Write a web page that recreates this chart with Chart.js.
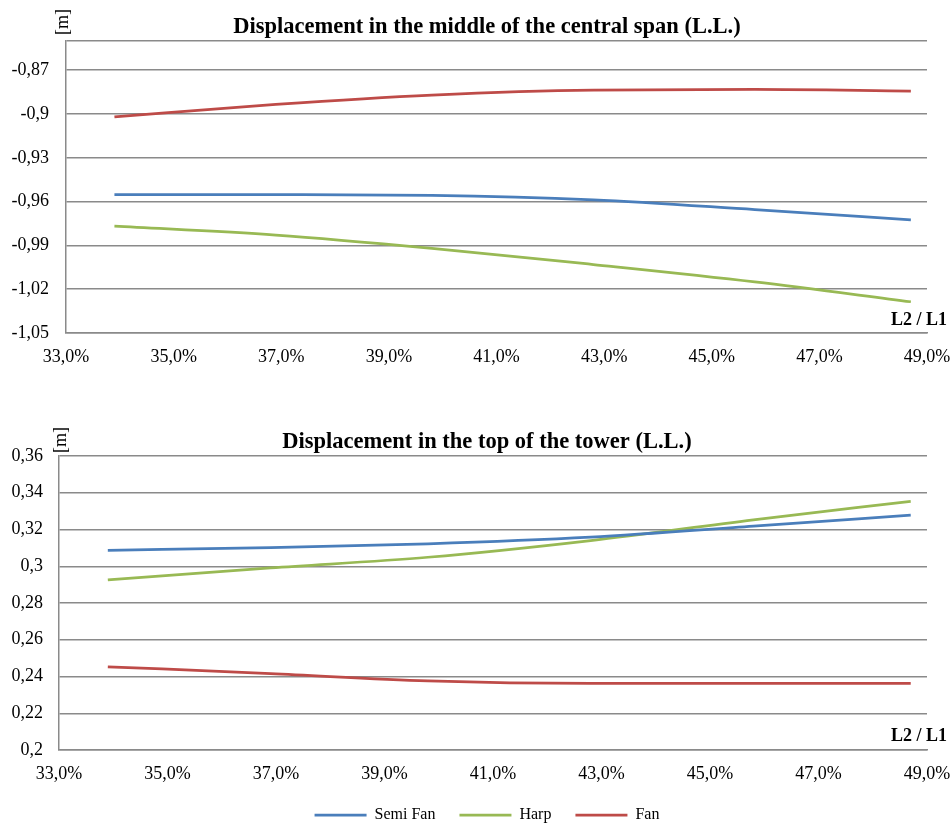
<!DOCTYPE html>
<html>
<head>
<meta charset="utf-8">
<script src="https://cdn.jsdelivr.net/npm/chart.js@4"></script>
<style>
  html, body { margin: 0; padding: 0; background: #fff; overflow: hidden; }
  canvas { display: block; }
</style>
</head>
<body>
<canvas id="midChart" width="952" height="375"></canvas>
<canvas id="topChart" width="952" height="458"></canvas>
<script>
// L2 / L1 ratios of the analysed layouts
var ratio = [0.339, 0.369, 0.398, 0.428, 0.458, 0.487];

// displacement in the middle of the central span [m]
var midSemiFan = [-0.9552, -0.9552, -0.9557, -0.9588, -0.9655, -0.9725];
var midHarp    = [-0.9768, -0.9829, -0.9920, -1.0031, -1.0150, -1.0286];
var midFan     = [-0.9020, -0.8934, -0.8870, -0.8836, -0.8832, -0.8843];

// displacement in the top of the tower [m]
var topSemiFan = [0.3087, 0.3102, 0.3122, 0.3158, 0.3218, 0.3278];
var topHarp    = [0.2926, 0.2991, 0.3049, 0.3140, 0.3253, 0.3353];
var topFan     = [0.2453, 0.2416, 0.2376, 0.2362, 0.2362, 0.2362];

// axis ticks
var xTicks = [0.33, 0.35, 0.37, 0.39, 0.41, 0.43, 0.45, 0.47, 0.49];
var midTicks = [-1.05, -1.02, -0.99, -0.96, -0.93, -0.90, -0.87];
var midMax = -0.85;
var topTicks = [0.20, 0.22, 0.24, 0.26, 0.28, 0.30, 0.32, 0.34, 0.36];

var SERIF = "'Liberation Serif', 'Times New Roman', serif";
var GRID = '#8a8a8a';
var colors = { semi: '#4a7ebb', harp: '#98b954', fan: '#be4b48' };

function pts(ys) {
  return ratio.map(function (r, i) { return { x: r, y: ys[i] }; });
}

function line(label, ys, color) {
  return {
    label: label,
    data: pts(ys),
    borderColor: color,
    backgroundColor: color,
    borderWidth: 2.75,
    pointRadius: 0,
    cubicInterpolationMode: 'monotone',
    fill: false
  };
}

function comma(v) {
  return String(Number(v.toFixed(2))).replace('.', ',');
}

// title, "[m]" unit and "L2 / L1" axis caption
var captions = {
  id: 'captions',
  afterLayout: function (chart, args, opts) {
    // nudge the legend so it sits under the title
    if (opts.legendShift && chart.legend) {
      chart.legend.left += opts.legendShift;
      chart.legend.right += opts.legendShift;
    }
  },
  afterDraw: function (chart, args, opts) {
    var ctx = chart.ctx, a = chart.chartArea;
    ctx.save();
    ctx.fillStyle = '#000';
    ctx.textAlign = 'center';
    ctx.textBaseline = 'middle';
    ctx.font = 'bold 22.5px ' + SERIF;
    ctx.fillText(opts.title, chart.width / 2 + 11, a.top - 14);
    ctx.restore();

    ctx.save();
    ctx.fillStyle = '#000';
    ctx.font = '18px ' + SERIF;
    ctx.translate(a.left + opts.unitDx, a.top - opts.unitDy);
    ctx.rotate(-Math.PI / 2);
    ctx.textAlign = 'center';
    ctx.textBaseline = 'middle';
    ctx.fillText('[m]', 0, 0);
    ctx.restore();

    ctx.save();
    ctx.fillStyle = '#000';
    ctx.font = 'bold 18px ' + SERIF;
    ctx.textAlign = 'right';
    ctx.textBaseline = 'middle';
    ctx.fillText('L2 / L1', chart.width - 5, a.bottom - opts.ratioDy);
    ctx.restore();
  }
};

function makeOptions(cfg) {
  return {
    responsive: false,
    animation: false,
    layout: { padding: { left: 0, right: 25, top: cfg.top, bottom: 0 } },
    plugins: {
      title: { display: false },
      legend: cfg.legend ? {
        display: true,
        position: 'bottom',
        fullSize: false,
        labels: {
          usePointStyle: true,
          pointStyle: 'line',
          pointStyleWidth: 52,
          padding: 24,
          color: '#000',
          font: { family: SERIF, size: 16 }
        }
      } : { display: false },
      tooltip: { enabled: false },
      captions: cfg.captions
    },
    scales: {
      x: {
        type: 'linear',
        min: 0.33,
        max: 0.49,
        afterBuildTicks: function (s) { s.ticks = xTicks.map(function (v) { return { value: v }; }); },
        afterFit: function (s) {
          s.height = cfg.xHeight;
          // the outer labels may hang past the plot edge
          s.paddingLeft = 0;
          s.paddingRight = 0;
        },
        grid: { display: false, drawTicks: false },
        border: { display: true, color: GRID, width: 1.5 },
        ticks: {
          padding: 13,
          maxRotation: 0,
          color: '#000',
          font: { family: SERIF, size: 18 },
          callback: function (v) { return (v * 100).toFixed(1).replace('.', ',') + '%'; }
        }
      },
      y: {
        min: cfg.yMin,
        max: cfg.yMax,
        afterBuildTicks: function (s) {
          var t = cfg.yTicks.slice();
          if (t[t.length - 1] < cfg.yMax) t.push(cfg.yMax);
          s.ticks = t.map(function (v) { return { value: v }; });
        },
        afterFit: function (s) { s.width = cfg.yWidth; },
        grid: { color: GRID, lineWidth: 1.5, drawTicks: false },
        border: { display: true, color: GRID, width: 1.5 },
        ticks: {
          padding: cfg.yPad,
          color: '#000',
          font: { family: SERIF, size: 18 },
          callback: function (v) { return cfg.yTicks.indexOf(v) < 0 ? '' : comma(v); }
        }
      }
    }
  };
}

new Chart(document.getElementById('midChart'), {
  type: 'line',
  data: {
    datasets: [
      line('Semi Fan', midSemiFan, colors.semi),
      line('Harp', midHarp, colors.harp),
      line('Fan', midFan, colors.fan)
    ]
  },
  options: makeOptions({
    top: 41,
    legend: false,
    xHeight: 42,
    yWidth: 66,
    yPad: 17,
    yMin: midTicks[0],
    yMax: midMax,
    yTicks: midTicks,
    captions: {
      title: 'Displacement in the middle of the central span (L.L.)',
      unitDx: -3, unitDy: 19, ratioDy: 13
    }
  }),
  plugins: [captions]
});

new Chart(document.getElementById('topChart'), {
  type: 'line',
  data: {
    datasets: [
      line('Semi Fan', topSemiFan, colors.semi),
      line('Harp', topHarp, colors.harp),
      line('Fan', topFan, colors.fan)
    ]
  },
  options: makeOptions({
    top: 81,
    legend: true,
    xHeight: 33,
    yWidth: 59,
    yPad: 16,
    yMin: topTicks[0],
    yMax: topTicks[topTicks.length - 1],
    yTicks: topTicks,
    captions: {
      title: 'Displacement in the top of the tower (L.L.)',
      unitDx: 2, unitDy: 16, ratioDy: 14,
      legendShift: -6
    }
  }),
  plugins: [captions]
});
</script>
</body>
</html>
